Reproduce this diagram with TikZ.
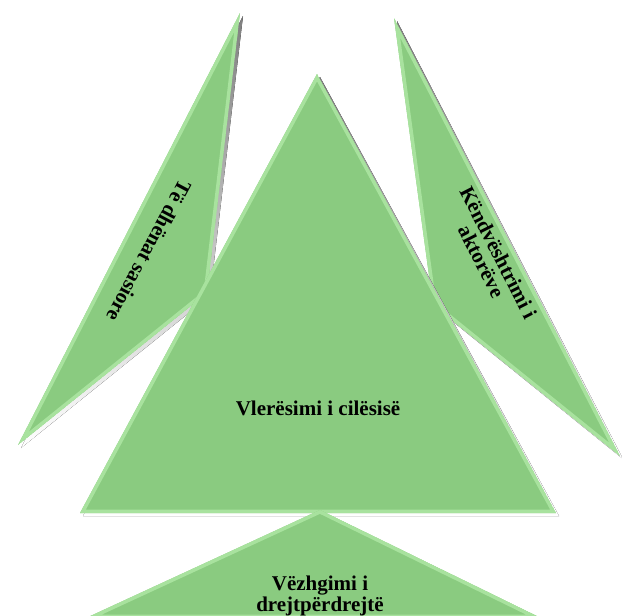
\documentclass[tikz,border=0pt]{standalone}
\usepackage{fontspec}
\setmainfont{Liberation Serif}

\definecolor{leaf}{RGB}{138,203,128}
\definecolor{leafhi}{RGB}{168,226,158}
\definecolor{shade}{RGB}{95,95,95}

% one bevelled triangle with its drop shadow
\newcommand{\facet}[3]{%
    \fill[shade] ([shift={(3,3)}]#1) -- ([shift={(3,3)}]#2) -- ([shift={(3,3)}]#3) -- cycle;
    \begin{scope}
        \clip (#1) -- (#2) -- (#3) -- cycle;
        \fill[leaf] (#1) -- (#2) -- (#3) -- cycle;
        \draw[leafhi, line width=7pt, line join=round] (#1) -- (#2) -- (#3) -- cycle;
    \end{scope}}

\begin{document}
\begin{tikzpicture}[x=1pt, y=-1pt,
        words/.style={font=\bfseries\fontsize{21}{19}\selectfont, align=center, inner sep=0pt}]
    \useasboundingbox (0,0) rectangle (622,616);

    % corners
    \coordinate (lt) at (240,13);  \coordinate (lb) at (18,445);  \coordinate (ln) at (207,293);
    \coordinate (rt) at (394,18);  \coordinate (rb) at (620,456); \coordinate (rn) at (433,305);
    \coordinate (mt) at (317,74);  \coordinate (ml) at (80,513);  \coordinate (mr) at (556,513);
    \coordinate (bt) at (320,510); \coordinate (bl) at (86,618);  \coordinate (br) at (541,618);

    \facet{lt}{lb}{ln}
    \facet{rt}{rb}{rn}
    \facet{mt}{ml}{mr}
    \facet{bt}{bl}{br}

    \node[words, rotate=-118] (quant) at (149,251) {Të dhënat sasiore};
    \node[words, rotate=-63] (actors) at (490,257) {Këndvështrimi i\\aktorëve};
    \node[words] (quality) at (318,408) {Vlerësimi i cilësisë};
    \node[words] (observe) at (320,596) {Vëzhgimi i\\drejtpërdrejtë};
\end{tikzpicture}
\end{document}
